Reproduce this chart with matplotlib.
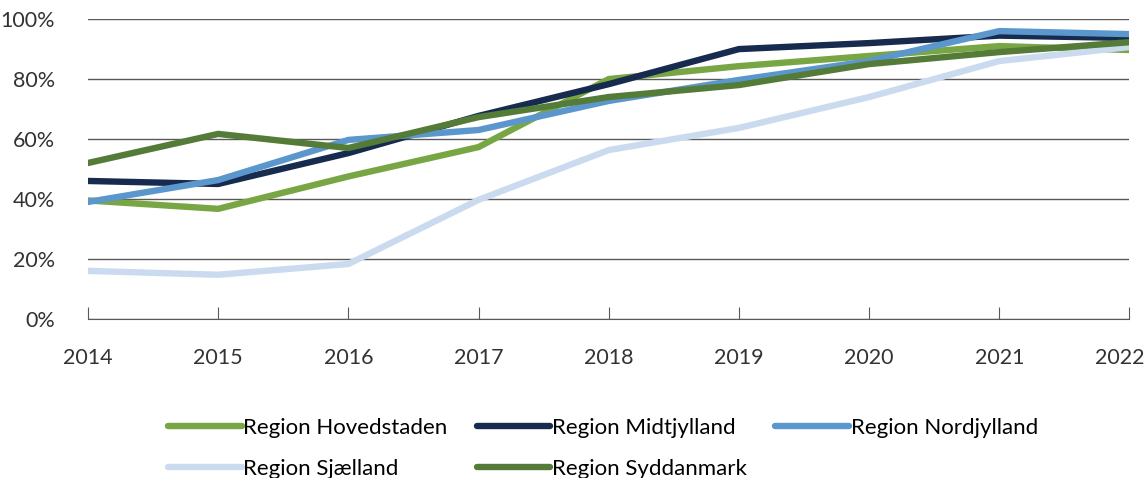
#!/usr/bin/env python3

import matplotlib.pyplot as plt
from matplotlib.ticker import PercentFormatter
from matplotlib.transforms import ScaledTranslation

years = [2014, 2015, 2016, 2017, 2018, 2019, 2020, 2021, 2022]

hovedstaden = [39.5, 36.7, 47.5, 57.3, 80.0, 84.3, 87.7, 91.0, 89.7]
midtjylland = [46.0, 45.0, 55.3, 67.7, 78.3, 90.0, 92.0, 94.5, 93.7]
nordjylland = [39.0, 46.3, 59.7, 63.0, 72.7, 79.7, 86.0, 96.0, 95.0]
sjaelland = [16.0, 14.7, 18.3, 39.7, 56.3, 63.7, 74.0, 86.0, 90.7]
syddanmark = [52.0, 61.7, 57.0, 67.3, 74.0, 78.0, 85.0, 89.0, 92.3]

names = ["Region Hovedstaden", "Region Midtjylland", "Region Nordjylland",
         "Region Sjælland", "Region Syddanmark"]
colors = ["#78A644", "#172B4F", "#5B97CC", "#CADBF0", "#557B38"]

plt.rcParams['font.family'] = ['Lato', 'DejaVu Sans']

fig = plt.figure(figsize=(11.47, 4.78), dpi=100)
ax = fig.add_axes([0.0767, 0.333, 0.908, 0.627])

series = [hovedstaden, midtjylland, nordjylland, sjaelland, syddanmark]
lines = {}
for name, vals, col in zip(names, series, colors):
    lines[name], = ax.plot(years, vals, color=col, lw=4.6, label=name,
                           solid_capstyle='round')

ax.set_xlim(2014, 2022)
ax.set_ylim(0, 100)
ax.set_yticks(range(0, 101, 20))
ax.yaxis.set_major_formatter(PercentFormatter(decimals=0))
ax.set_xticks(years)
ax.grid(axis='y', color='#595959', lw=1.0)
ax.set_axisbelow(True)
for s in ['top', 'right', 'left']:
    ax.spines[s].set_visible(False)
ax.spines['bottom'].set_color('#595959')
ax.tick_params(axis='y', length=0, pad=24, labelsize=15.5, labelcolor='#333333')
ax.tick_params(axis='x', direction='in', length=9, color='#595959',
               pad=21, labelsize=15.5, labelcolor='#333333')

# last year label sits a little left so it fits in the figure
last = ax.get_xticklabels()[-1]
last.set_transform(last.get_transform()
                   + ScaledTranslation(-0.1, 0, fig.dpi_scale_trans))

# row-wise order: matplotlib fills legend columns first
order = ["Region Hovedstaden", "Region Sjælland", "Region Midtjylland",
         "Region Syddanmark", "Region Nordjylland"]
fig.legend([lines[n] for n in order], order,
           loc='upper left', bbox_to_anchor=(0.139, 0.145), ncol=3,
           frameon=False, fontsize=16, handlelength=3.3, handletextpad=0.08,
           columnspacing=1.3, labelspacing=0.95, borderaxespad=0)

fig.savefig('out.png')
